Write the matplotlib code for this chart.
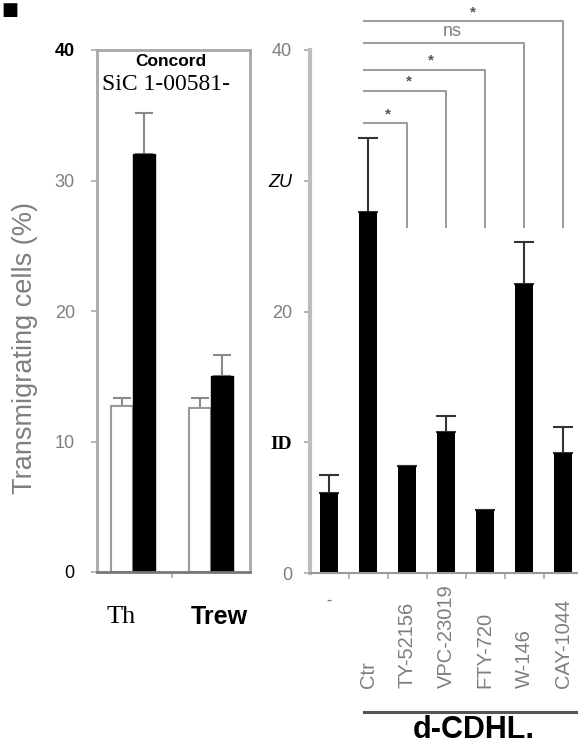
import matplotlib
matplotlib.use("Agg")
import matplotlib.pyplot as plt
import matplotlib.transforms as mtransforms

W, H = 578, 746
plt.rcParams['font.family'] = ['Liberation Sans', 'DejaVu Sans']

# left panel: two groups, white / black bars
left_groups = ["Th", "Trew"]
left_white = [12.7, 12.6]
left_white_err = [0.6, 0.7]
left_black = [32.0, 15.0]
left_black_err = [3.2, 1.6]
left_yticklabels = ["0", "10", "20", "30", "40"]

# right panel: treatments
right_labels = ["-", "Ctr", "TY-52156", "VPC-23019", "FTY-720", "W-146", "CAY-1044"]
right_vals = [6.1, 27.6, 8.2, 10.8, 4.8, 22.1, 9.2]
right_err = [1.4, 5.7, 0.0, 1.2, 0.0, 3.2, 2.0]
right_yticklabels = ["0", "ID", "20", "ZU", "40"]

# significance brackets vs Ctr
sig_targets = [2, 3, 4, 5, 6]
sig_heights = [34.4, 36.9, 38.5, 40.5, 42.2]
sig_text = ["*", "*", "*", "ns", "*"]

GREY = "#7f7f7f"
SPINE = "#a8a8a8"

fig = plt.figure(figsize=(W / 100, H / 100), dpi=100)

# ---------------- left panel ----------------
axL = fig.add_axes([97 / W, 1 - 572 / H, 153 / W, 522 / H])
xs = list(range(len(left_groups)))
bw = 0.28
axL.bar([x - bw / 2 for x in xs], left_white, width=bw, color="white",
        edgecolor="#9a9a9a", linewidth=1.5, zorder=2)
axL.bar([x + bw / 2 for x in xs], left_black, width=bw, color="black",
        edgecolor="black", zorder=2)
axL.errorbar([x - bw / 2 for x in xs], left_white,
             yerr=[[0] * len(xs), left_white_err], fmt="none",
             ecolor="#8a8a8a", elinewidth=1.5, capsize=6.5, capthick=1.5, zorder=1)
axL.errorbar([x + bw / 2 for x in xs], left_black,
             yerr=[[0] * len(xs), left_black_err], fmt="none",
             ecolor="#8a8a8a", elinewidth=1.5, capsize=6.5, capthick=1.5, zorder=1)
axL.set_xlim(-0.46, 1.5)
axL.set_ylim(0, 40)
for s in axL.spines.values():
    s.set_color(SPINE)
    s.set_linewidth(2)
axL.spines["bottom"].set_color("#777777")
axL.set_xticks([0.5])
axL.set_xticklabels([""])
axL.tick_params(axis="x", length=4, color=SPINE, width=1.2)
axL.set_yticks([0, 10, 20, 30, 40])
axL.set_yticklabels(left_yticklabels)
axL.tick_params(axis="y", length=4, color=SPINE, width=1.2, pad=12,
                labelsize=13, labelcolor=GREY)
for t in axL.get_yticklabels():
    if t.get_text() == "40":
        t.set_color("black")
        t.set_fontweight("bold")
        t.set_bbox(dict(facecolor="white", edgecolor="none", pad=1))
    elif t.get_text() == "0":
        t.set_color("black")
axL.set_ylabel("Transmigrating cells (%)", fontsize=19.5, color=GREY)
axL.yaxis.set_label_coords(-0.386, 0.43)

trL = mtransforms.blended_transform_factory(axL.transData, axL.transAxes)
axL.text(xs[0] - 0.15, -0.086, left_groups[0], transform=trL, ha="center",
         va="center", fontsize=19, family=["Liberation Serif"], color="black")
axL.text(xs[1] + 0.11, -0.086, left_groups[1], transform=trL, ha="center",
         va="center", fontsize=18, fontweight="bold", color="black")

fig.text(171 / W, 1 - 62 / H, "Concord", ha="center", va="center",
         fontsize=12.5, fontweight="bold",
         bbox=dict(facecolor="white", edgecolor="none", pad=2))
fig.text(166 / W, 1 - 84 / H, "SiC 1-00581-", ha="center", va="center",
         fontsize=17, family=["Liberation Serif"],
         bbox=dict(facecolor="white", edgecolor="none", pad=2))
fig.text(1 / W, 1 - 1 / H, "■", ha="left", va="top", fontsize=13,
         family=["DejaVu Sans"], color="black")

# ---------------- right panel ----------------
axR = fig.add_axes([310 / W, 1 - 573 / H, 268 / W, 523 / H])
xr = list(range(len(right_labels)))
axR.bar(xr, right_vals, width=0.45, color="black", zorder=2)
axR.errorbar(xr, right_vals, yerr=[[0] * len(xr), right_err], fmt="none",
             ecolor="#333333", elinewidth=1.5, capsize=7, capthick=1.5, zorder=1)
axR.set_xlim(-0.49, 6.38)
axR.set_ylim(0, 40)
for k in ["top", "right"]:
    axR.spines[k].set_visible(False)
axR.spines["left"].set_color("#bdbdbd")
axR.spines["left"].set_linewidth(3)
axR.spines["bottom"].set_color("#9a9a9a")
axR.spines["bottom"].set_linewidth(1.5)
axR.set_xticks([x + 0.5 for x in xr[:-1]])
axR.set_xticklabels([""] * (len(xr) - 1))
axR.tick_params(axis="x", length=4, color=SPINE, width=1.2)
axR.set_yticks([0, 10, 20, 30, 40])
axR.set_yticklabels(right_yticklabels)
axR.tick_params(axis="y", length=4, color=SPINE, width=1.2, pad=9,
                labelsize=13, labelcolor=GREY)
for t in axR.get_yticklabels():
    if t.get_text() == "ID":
        t.set_color("black")
        t.set_fontweight("bold")
        t.set_fontfamily(["Liberation Serif"])
        t.set_fontsize(14)
        t.set_bbox(dict(facecolor="white", edgecolor="none", pad=1))
    elif t.get_text() == "ZU":
        t.set_color("black")
        t.set_fontstyle("italic")
        t.set_bbox(dict(facecolor="white", edgecolor="none", pad=1))

trR = mtransforms.blended_transform_factory(axR.transData, axR.transAxes)
for i, lab in enumerate(right_labels):
    if lab == "-":
        axR.text(i, -0.052, "-", transform=trR, ha="center", va="center",
                 fontsize=11, color=GREY, fontweight="bold")
    else:
        axR.text(i, -0.22, lab, transform=trR, rotation=90, ha="center",
                 va="bottom", fontsize=14.5, color=GREY)

# underline and group label
axR.plot([0.9, 6.38], [-0.266, -0.266], transform=trR, color="#555555",
         lw=2.2, clip_on=False)
axR.text(3.72, -0.30, "d-CDHL.", transform=trR, ha="center", va="center",
         fontsize=22, fontweight="bold", color="black")

# brackets
x0 = 0.9
for j, (tg, hgt, lab) in enumerate(zip(sig_targets, sig_heights, sig_text)):
    axR.plot([x0, tg, tg], [hgt, hgt, 26.5], color="#9a9a9a", lw=1.4,
             clip_on=False, zorder=1)
    xm = (x0 + tg) / 2 + 0.05 * (j + 1)
    if lab == "ns":
        axR.text(xm, hgt + 0.25, lab, ha="center", va="bottom", fontsize=13,
                 color=GREY)
    else:
        axR.text(xm, hgt + 0.15, lab, ha="center", va="bottom", fontsize=11,
                 color="#555555", fontweight="bold")

fig.savefig("out.png", dpi=100)
